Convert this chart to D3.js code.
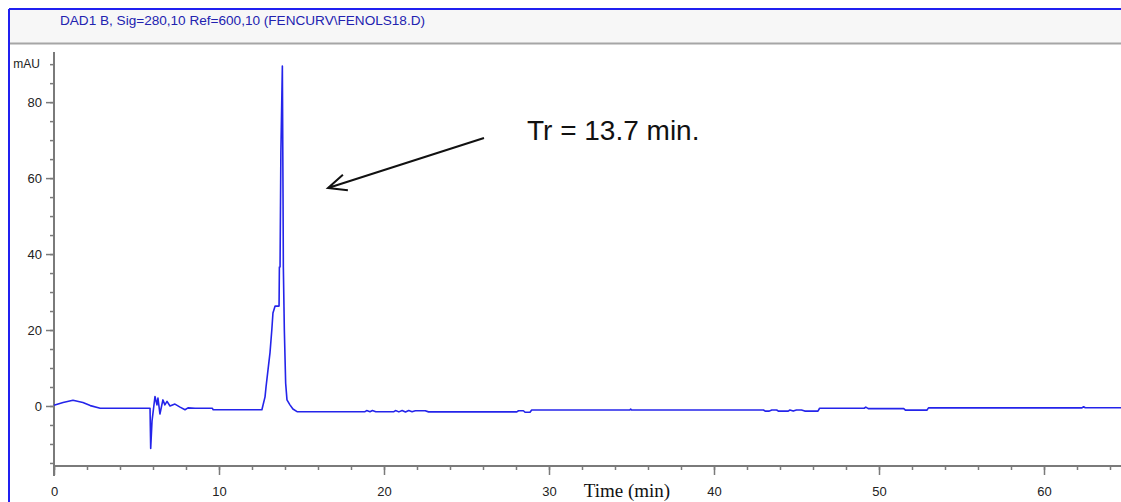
<!DOCTYPE html>
<html>
<head>
<meta charset="utf-8">
<script src="https://cdn.jsdelivr.net/npm/d3@7"></script>
<style>
	html, body { margin: 0; padding: 0; background: #fff; }
	svg { display: block; }
</style>
</head>
<body>
<div id="chart-area"></div>
<script>
// signal: retention time (min) and absorbance (mAU)
const sigTime = [
	0, 0.55, 1.15, 1.75, 2.2, 2.8, 5.82, 5.86, 5.94, 6.12, 6.24, 6.3, 6.42, 6.6,
	6.72, 6.85, 7.03, 7.33, 7.64, 7.94, 8.12, 8.55, 9.6, 9.65, 12.6, 12.79,
	12.85, 12.97, 13.09, 13.2, 13.27, 13.4, 13.64, 13.66, 13.7, 13.75, 13.84,
	13.88, 13.9, 13.96, 14.04, 14.12, 14.3, 14.48, 14.73, 18.85, 18.95, 19.15,
	19.3, 19.5, 20.6, 20.7, 20.9, 21.1, 21.3, 21.5, 21.7, 21.9, 22.5, 22.7,
	28.05, 28.15, 28.45, 28.55, 28.85, 28.95, 34.9, 34.95, 35.0, 43.0, 43.1,
	43.35, 43.5, 43.8, 43.9, 44.5, 44.6, 44.8, 45.0, 45.3, 45.5, 46.3, 46.4,
	49.1, 49.2, 49.35, 51.5, 51.6, 52.9, 53.0, 62.3, 62.4, 62.5, 65,
];
const sigMAU = [
	0.2, 0.9, 1.5, 0.9, 0.1, -0.6, -0.6, -11.2, -4, 2.5, 0.3, 2.1, -2.1, 1.6,
	0.3, 1.2, 0, 0.5, -0.3, -1.0, -0.5, -0.6, -0.6, -1.0, -1.0, 2.4,
	5, 9.5, 14, 20, 24.5, 26.3, 26.3, 36.6, 36.6, 66.8, 89.5,
	56, 36.6, 20, 6, 1.6, 0.3, -0.8, -1.5, -1.5, -1.2, -1.5,
	-1.2, -1.5, -1.5, -1.2, -1.55, -1.2, -1.6, -1.2, -1.5, -1.25, -1.25, -1.55,
	-1.55, -1.25, -1.25, -1.65, -1.65, -1.05, -1.05, -0.8, -1.05, -1.05, -1.35,
	-1.35, -1.05, -1.05, -1.35, -1.35, -1.05, -1.35, -1.05, -1.05, -1.35, -1.35, -0.6,
	-0.6, -0.3, -0.7, -0.7, -1.1, -1.1, -0.5, -0.5, -0.2, -0.45, -0.45,
];

const xMajor = [0, 10, 20, 30, 40, 50, 60];
const xMinor = d3.range(0, 65, 2);
const yMajor = [0, 20, 40, 60, 80];
const yMinor = d3.range(-15, 95, 5);
const yUnitTick = 90;

const headerText = "DAD1 B, Sig=280,10 Ref=600,10 (FENCURV\\FENOLS18.D)";
const annotText = "Tr = 13.7 min.";
const xTitle = "Time (min)";

const W = 1121, H = 502;
const svg = d3.select("#chart-area").append("svg")
	.attr("width", W).attr("height", H);

// header strip
svg.append("rect").attr("x", 9).attr("y", 9).attr("width", W).attr("height", 34)
	.attr("fill", "#f7f7f7");
svg.append("line").attr("x1", 9).attr("x2", W).attr("y1", 43.5).attr("y2", 43.5)
	.attr("stroke", "#a6a6a6").attr("stroke-width", 2);
svg.append("line").attr("x1", 9).attr("x2", W).attr("y1", 9).attr("y2", 9)
	.attr("stroke", "#2020f0").attr("stroke-width", 2);
svg.append("line").attr("x1", 9).attr("x2", 9).attr("y1", 9).attr("y2", H)
	.attr("stroke", "#2020f0").attr("stroke-width", 2);
svg.append("text").attr("x", 60).attr("y", 25)
	.attr("font-family", "Liberation Sans, Arial, sans-serif")
	.attr("font-size", 12).attr("fill", "#2222b0")
	.attr("textLength", 365).attr("lengthAdjust", "spacingAndGlyphs")
	.text(headerText);

const x = d3.scaleLinear().domain([0, 65]).range([54, 54 + 65 * 16.5]);
const y = d3.scaleLinear().domain([-15.8, 93.2]).range([466, 52]);

const axisColor = "#7a7a7a";
const font = "Liberation Sans, Arial, sans-serif";

// y axis
const yAxisG = svg.append("g").attr("transform", `translate(${x(0)},0)`);
yAxisG.call(d3.axisLeft(y).tickValues(yMinor).tickSize(4).tickFormat(""));
yAxisG.append("g").call(d3.axisLeft(y).tickValues(yMajor).tickSize(8).tickPadding(4)
	.tickFormat(d3.format("d")));
yAxisG.selectAll(".domain").remove();
yAxisG.selectAll("line").attr("stroke", axisColor).attr("stroke-width", 1.5);
yAxisG.selectAll("text").attr("font-family", font).attr("font-size", 13).attr("fill", "#222");
yAxisG.append("text").attr("x", -14).attr("y", y(yUnitTick)).attr("dy", "0.32em")
	.attr("text-anchor", "end").attr("font-family", font).attr("font-size", 12)
	.attr("fill", "#222").text("mAU");
svg.append("line").attr("x1", x(0)).attr("x2", x(0)).attr("y1", 52).attr("y2", 476)
	.attr("stroke", axisColor).attr("stroke-width", 2);

// x axis
const xAxisG = svg.append("g").attr("transform", `translate(0,${y(-15.8)})`);
xAxisG.call(d3.axisBottom(x).tickValues(xMinor).tickSize(4).tickFormat(""));
xAxisG.append("g").call(d3.axisBottom(x).tickValues(xMajor).tickSize(9).tickPadding(12)
	.tickFormat(d3.format("d")));
xAxisG.selectAll(".domain").remove();
xAxisG.selectAll("line").attr("stroke", axisColor).attr("stroke-width", 1.5);
xAxisG.selectAll("text").attr("font-family", font).attr("font-size", 13).attr("fill", "#222");
svg.append("line").attr("x1", x(0)).attr("x2", W).attr("y1", y(-15.8)).attr("y2", y(-15.8))
	.attr("stroke", axisColor).attr("stroke-width", 2);

svg.append("text").attr("x", 627).attr("y", 497).attr("text-anchor", "middle")
	.attr("font-family", "Liberation Serif, Times New Roman, serif")
	.attr("font-size", 19).attr("fill", "#111").text(xTitle);

// trace
const line = d3.line().x((d, i) => x(sigTime[i])).y((d, i) => y(sigMAU[i]));
svg.append("path").datum(sigMAU).attr("d", line)
	.attr("fill", "none").attr("stroke", "#2424ea").attr("stroke-width", 1.6)
	.attr("stroke-linejoin", "round");

// annotation
svg.append("text").attr("x", 527).attr("y", 140)
	.attr("font-family", font).attr("font-size", 28).attr("fill", "#111").text(annotText);
const ax1 = 484, ay1 = 138, ax2 = 328, ay2 = 188;
const ang = Math.atan2(ay1 - ay2, ax1 - ax2);
const headLen = 20, spread = 0.42;
svg.append("path")
	.attr("d", `M${ax1},${ay1}L${ax2},${ay2}` +
		`M${ax2 + headLen * Math.cos(ang + spread)},${ay2 + headLen * Math.sin(ang + spread)}` +
		`L${ax2},${ay2}L${ax2 + headLen * Math.cos(ang - spread)},${ay2 + headLen * Math.sin(ang - spread)}`)
	.attr("fill", "none").attr("stroke", "#111").attr("stroke-width", 2);
</script>
</body>
</html>
